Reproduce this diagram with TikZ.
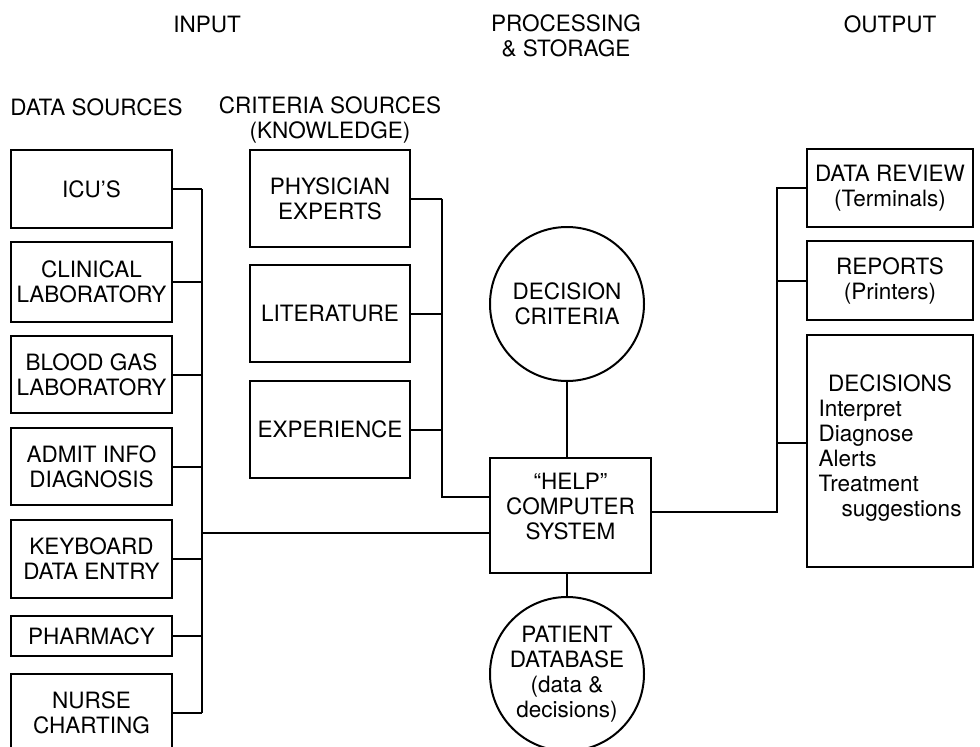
\documentclass[tikz,border=0pt]{standalone}
\usepackage{fontspec}
\setmainfont{TeX Gyre Heros}
\begin{document}
\begin{tikzpicture}[x=1pt,y=-1pt,
  every node/.style={font=\fontsize{22.5}{25}\selectfont},
  box/.style={draw,line width=2pt,inner sep=0pt,align=center},
  circ/.style={draw,line width=2pt,circle,inner sep=0pt,minimum size=154pt,align=center},
  lbl/.style={inner sep=0pt,align=center},
  wire/.style={line width=2pt}]
\useasboundingbox (0,0) rectangle (980,747);
% headers
\node[lbl] (hin) at (207,24) {INPUT};
\node[lbl] (hproc) at (566,36) {PROCESSING\\\& STORAGE};
\node[lbl] (hout) at (890,24) {OUTPUT};
\node[lbl] (hdata) at (96.5,107) {DATA SOURCES};
\node[lbl] (hcrit) at (330,120) {CRITERIA SOURCES\\(KNOWLEDGE)};
% data sources
\node[box,minimum width=161pt,minimum height=78pt] (icu) at (91.5,189) {ICU'S};
\node[box,minimum width=161pt,minimum height=80pt] (clin) at (91.5,282) {CLINICAL\\LABORATORY};
\node[box,minimum width=161pt,minimum height=77pt] (blood) at (91.5,374.5) {BLOOD GAS\\LABORATORY};
\node[box,minimum width=161pt,minimum height=77pt] (admit) at (91.5,466.5) {ADMIT INFO\\DIAGNOSIS};
\node[box,minimum width=161pt,minimum height=78pt] (keyb) at (91.5,559) {KEYBOARD\\DATA ENTRY};
\node[box,minimum width=161pt,minimum height=40pt] (pharm) at (91.5,636) {PHARMACY};
\node[box,minimum width=161pt,minimum height=78pt] (nurse) at (91.5,713) {NURSE\\CHARTING};
% criteria sources
\node[box,minimum width=160pt,minimum height=97pt] (phys) at (330,198.5) {PHYSICIAN\\EXPERTS};
\node[box,minimum width=160pt,minimum height=97pt] (lit) at (330,313.5) {LITERATURE};
\node[box,minimum width=160pt,minimum height=97pt] (exp) at (330,429.5) {EXPERIENCE};
% processing
\node[circ] (crit) at (567,304) {DECISION\\CRITERIA};
\node[box,minimum width=161pt,minimum height=115pt] (help) at (570.5,515.5) {“HELP”\\COMPUTER\\SYSTEM\\[-6pt]};
\node[circ] (pdb) at (567,674) {PATIENT\\DATABASE\\(data \&\\decisions)};
% outputs
\node[box,minimum width=166pt,minimum height=78pt] (review) at (890,188) {DATA REVIEW\\(Terminals)};
\node[box,minimum width=166pt,minimum height=79pt] (reports) at (890,280.5) {REPORTS\\(Printers)};
\node[box,minimum width=166pt,minimum height=232pt] (dec) at (890,451) {\begin{tabular}{@{}l@{}}\multicolumn{1}{@{}c@{}}{DECISIONS}\\Interpret\\Diagnose\\Alerts\\Treatment\\\hspace{23pt}suggestions\end{tabular}\\[4pt]};
% bus coordinates
\coordinate (ibus) at (202,0);
\coordinate (cbus) at (442,0);
\coordinate (obus) at (777,0);
% data source wiring
\foreach \n in {icu,clin,blood,admit,keyb,pharm,nurse}
  \draw[wire] (\n.east) -- (\n.east -| ibus);
\draw[wire] (icu.east -| ibus) -- (nurse.east -| ibus);
\draw[wire] ([yshift=-17.5pt]help.west -| ibus) -- ([yshift=-17.5pt]help.west);
% criteria wiring
\foreach \n in {phys,lit,exp}
  \draw[wire] (\n.east) -- (\n.east -| cbus);
\draw[wire] (phys.east -| cbus) -- ([yshift=18.5pt]help.west -| cbus) -- ([yshift=18.5pt]help.west);
% processing wiring
\draw[wire] (crit.south) -- (crit.south |- help.north);
\draw[wire] (pdb.north |- help.south) -- (pdb.north);
% output wiring
\draw[wire] ([yshift=3.5pt]help.east) -- ([yshift=3.5pt]help.east -| obus) -- (review.west -| obus) -- (review.west);
\draw[wire] (reports.west -| obus) -- (reports.west);
\draw[wire] ([yshift=8pt]dec.west -| obus) -- ([yshift=8pt]dec.west);
\end{tikzpicture}
\end{document}
